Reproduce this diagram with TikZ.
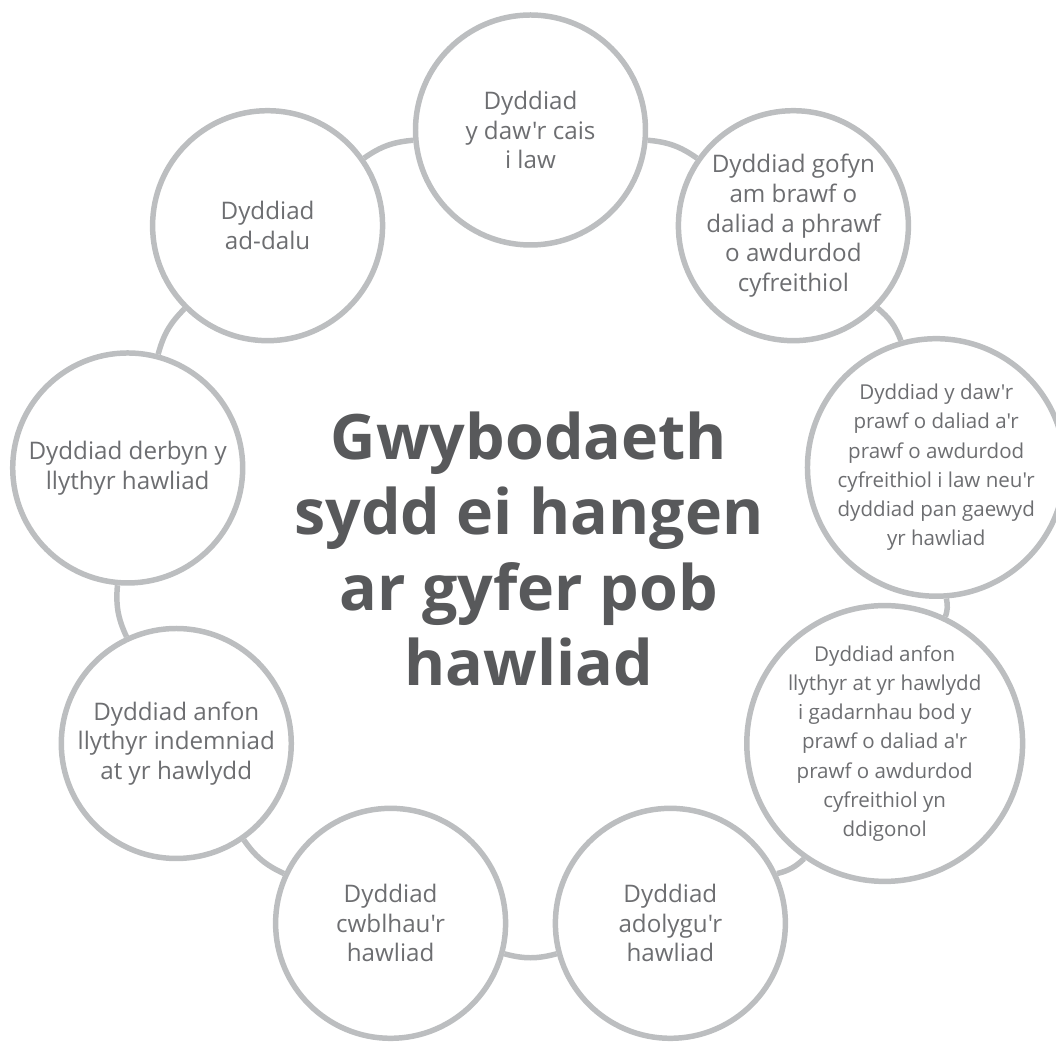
\documentclass[tikz,border=0pt]{standalone}
\usepackage{fontspec}
\setmainfont{Open Sans}[Ligatures=TeXOff]
\definecolor{ringgrey}{HTML}{BCBEC0}
\definecolor{labelgrey}{HTML}{6D6E71}
\definecolor{titlegrey}{HTML}{58595B}
\tikzset{
  datebox/.style={circle, draw=ringgrey, line width=3.9pt, fill=white, minimum size=5.75cm, inner sep=0pt, align=center, text=labelgrey, font=\fontsize{17.2}{21}\selectfont},
  datebig/.style={datebox, minimum size=6.4cm, font=\fontsize{14.6}{20.8}\selectfont},
  linkline/.style={draw=ringgrey, line width=3.9pt},
  titletext/.style={align=center, text=titlegrey, inner sep=0pt, font=\fontsize{44.6}{53.7}\selectfont\bfseries}
}
\begin{document}
\begin{tikzpicture}
\useasboundingbox (-13.2625,-12.575) rectangle (13.1375,13.475);

\node[datebox] (cais) at (90:10.225) {Dyddiad\\y daw'r cais\\i law};
\node[datebox] (gofyn) at (50:10.225) {Dyddiad gofyn\\am brawf o\\daliad a phrawf\\o awdurdod\\cyfreithiol};
\node[datebig] (prawf) at (10:10.3) {Dyddiad y daw'r\\prawf o daliad a'r\\prawf o awdurdod\\cyfreithiol i law neu'r\\dyddiad pan gaewyd\\yr hawliad};
\node[datebig] (anfon) at (-30:10.225) {Dyddiad anfon\\llythyr at yr hawlydd\\i gadarnhau bod y\\prawf o daliad a'r\\prawf o awdurdod\\cyfreithiol yn\\ddigonol};
\node[datebox] (adolygu) at (-70:10.225) {Dyddiad\\adolygu'r\\hawliad};
\node[datebox] (cwblhau) at (-110:10.225) {Dyddiad\\cwblhau'r\\hawliad};
\node[datebox] (indemniad) at (-150:10.225) {Dyddiad anfon\\llythyr indemniad\\at yr hawlydd};
\node[datebox] (derbyn) at (170:10.225) {Dyddiad derbyn y\\llythyr hawliad};
\node[datebox] (addalu) at (130:10.225) {Dyddiad\\ad-dalu};

\draw[linkline] (cais) to[bend left=15] (gofyn);
\draw[linkline] (gofyn) to[bend left=15] (prawf);
\draw[linkline] (prawf) to[bend left=15] (anfon);
\draw[linkline] (anfon) to[bend left=15] (adolygu);
\draw[linkline] (adolygu) to[bend left=15] (cwblhau);
\draw[linkline] (cwblhau) to[bend left=15] (indemniad);
\draw[linkline] (indemniad) to[bend left=15] (derbyn);
\draw[linkline] (derbyn) to[bend left=15] (addalu);
\draw[linkline] (addalu) to[bend left=15] (cais);

\node[titletext] (teitl) at (-0.04,-0.25) {Gwybodaeth\\sydd ei hangen\\ar gyfer pob\\hawliad};

\end{tikzpicture}
\end{document}
